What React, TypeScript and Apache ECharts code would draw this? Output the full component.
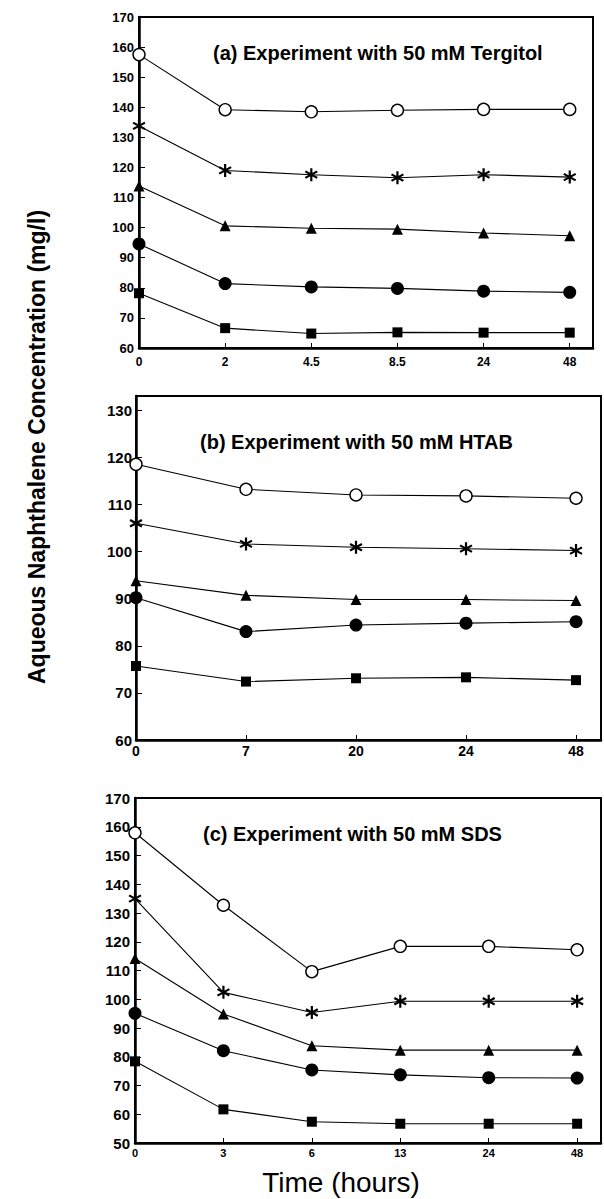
import React, { useEffect, useRef } from 'react';
import * as echarts from 'echarts';

// ---- data ----
const timesA = ['0', '2', '4.5', '8.5', '24', '48'];
const timesB = ['0', '7', '20', '24', '48'];
const timesC = ['0', '3', '6', '13', '24', '48'];

const openCircleA = [157.5, 139.2, 138.5, 139.0, 139.3, 139.3];
const asteriskA = [133.8, 119.0, 117.6, 116.6, 117.6, 116.8];
const triangleA = [113.8, 100.6, 99.8, 99.5, 98.2, 97.3];
const filledCircleA = [94.6, 81.4, 80.3, 79.8, 78.9, 78.5];
const squareA = [78.2, 66.6, 64.8, 65.2, 65.1, 65.1];

const openCircleB = [118.5, 113.2, 112.0, 111.8, 111.3];
const asteriskB = [106.0, 101.6, 100.9, 100.6, 100.2];
const triangleB = [93.8, 90.7, 89.8, 89.8, 89.6];
const filledCircleB = [90.2, 83.0, 84.4, 84.8, 85.1];
const squareB = [75.7, 72.4, 73.1, 73.3, 72.7];

const openCircleC = [157.9, 132.7, 109.6, 118.4, 118.4, 117.2];
const asteriskC = [135.0, 102.4, 95.4, 99.3, 99.3, 99.3];
const triangleC = [114.2, 94.9, 83.8, 82.3, 82.3, 82.3];
const filledCircleC = [95.1, 82.1, 75.4, 73.7, 72.7, 72.6];
const squareC = [78.4, 61.7, 57.4, 56.7, 56.7, 56.7];

const titleA = '(a) Experiment with 50 mM Tergitol';
const titleB = '(b) Experiment with 50 mM HTAB';
const titleC = '(c) Experiment with 50 mM SDS';
const yTitle = 'Aqueous Naphthalene Concentration (mg/l)';
const xTitle = 'Time (hours)';

// ---- styling ----
const FONT = '"Liberation Sans", Arial, Helvetica, sans-serif';
const ASTERISK =
  'path://M8.4 0L11.6 0L11.6 20L8.4 20Z M2.14 3.614L19.46 13.614L17.86 16.386L0.54 6.386Z M0.54 13.614L17.86 3.614L19.46 6.386L2.14 16.386Z';

const markerStyles = [
  { name: 'open circle', symbol: 'circle', size: 12, fill: '#fff', border: 1.4 },
  { name: 'asterisk', symbol: ASTERISK, size: 13, fill: '#000', border: 0 },
  { name: 'triangle', symbol: 'triangle', size: 11, fill: '#000', border: 0 },
  { name: 'filled circle', symbol: 'circle', size: 13, fill: '#000', border: 0 },
  { name: 'square', symbol: 'rect', size: 10, fill: '#000', border: 0 },
];

const panels = [
  {
    times: timesA,
    series: [openCircleA, asteriskA, triangleA, filledCircleA, squareA],
    grid: { left: 139, top: 17, width: 454, height: 331 },
    yMin: 60, yMax: 170, xMax: 5.27,
    yFont: 13, xFont: 12, xMargin: 8, yMargin: 5,
    title: titleA, titleLeft: 213, titleTop: 43,
  },
  {
    times: timesB,
    series: [openCircleB, asteriskB, triangleB, filledCircleB, squareB],
    grid: { left: 136, top: 396, width: 466, height: 344 },
    yMin: 60, yMax: 133, xMax: 4.227,
    yFont: 15, xFont: 14, xMargin: 4, yMargin: 4,
    title: titleB, titleLeft: 200, titleTop: 432,
  },
  {
    times: timesC,
    series: [openCircleC, asteriskC, triangleC, filledCircleC, squareC],
    grid: { left: 135, top: 798, width: 471, height: 345 },
    yMin: 50, yMax: 170, xMax: 5.27,
    yFont: 15, xFont: 11, xMargin: 4, yMargin: 5,
    title: titleC, titleLeft: 203, titleTop: 824,
  },
];

function buildOption() {
  const grid: any[] = [];
  const xAxis: any[] = [];
  const yAxis: any[] = [];
  const series: any[] = [];
  const title: any[] = [];

  panels.forEach((p, pi) => {
    grid.push({
      ...p.grid,
      show: true,
      borderColor: '#000',
      borderWidth: 2,
      backgroundColor: 'transparent',
      containLabel: false,
    });
    xAxis.push({
      type: 'value',
      gridIndex: pi,
      min: 0,
      max: p.xMax,
      interval: 1,
      axisLine: { show: true, lineStyle: { color: '#000', width: 2.5 } },
      axisTick: { show: true, inside: true, length: 5, lineStyle: { color: '#000', width: 1 } },
      splitLine: { show: false },
      axisLabel: {
        color: '#000',
        fontFamily: FONT,
        fontWeight: 'bold',
        fontSize: p.xFont,
        margin: p.xMargin,
        formatter: (v: number) =>
          Number.isInteger(v) && v >= 0 && v < p.times.length ? p.times[v] : '',
      },
    });
    yAxis.push({
      type: 'value',
      gridIndex: pi,
      min: p.yMin,
      max: p.yMax,
      interval: 10,
      axisLine: { show: true, lineStyle: { color: '#000', width: 2.5 } },
      axisTick: { show: true, inside: true, length: 6, lineStyle: { color: '#000', width: 1 } },
      splitLine: { show: false },
      axisLabel: {
        color: '#000',
        fontFamily: FONT,
        fontWeight: 'bold',
        fontSize: p.yFont,
        margin: p.yMargin,
        formatter: (v: number) => (v % 10 === 0 ? String(v) : ''),
      },
    });
    title.push({
      text: p.title,
      left: p.titleLeft,
      top: p.titleTop,
      padding: 0,
      textStyle: { color: '#000', fontFamily: FONT, fontWeight: 'bold', fontSize: 20 },
    });
    p.series.forEach((vals, si) => {
      const m = markerStyles[si];
      series.push({
        type: 'line',
        name: m.name + ' ' + (pi + 1),
        xAxisIndex: pi,
        yAxisIndex: pi,
        data: vals.map((v, i) => [i, v]),
        symbol: m.symbol,
        symbolSize: m.size,
        showAllSymbol: true,
        lineStyle: { color: '#000', width: 1.1 },
        itemStyle: {
          color: m.fill,
          borderColor: '#000',
          borderWidth: m.border,
        },
        z: 3,
      });
    });
  });

  return {
    animation: false,
    backgroundColor: '#fff',
    title,
    grid,
    xAxis,
    yAxis,
    series,
    graphic: [
      {
        type: 'text',
        x: 37,
        y: 447,
        rotation: Math.PI / 2,
        style: {
          text: yTitle,
          fill: '#000',
          font: `bold 23px ${FONT}`,
          textAlign: 'center',
          textVerticalAlign: 'middle',
        },
      },
      {
        type: 'text',
        x: 341,
        y: 1182,
        style: {
          text: xTitle,
          fill: '#000',
          font: `28px ${FONT}`,
          textAlign: 'center',
          textVerticalAlign: 'middle',
        },
      },
    ],
  };
}

export default function App() {
  const ref = useRef<HTMLDivElement>(null);
  useEffect(() => {
    document.body.style.margin = '0';
    if (!ref.current) return;
    const chart = echarts.init(ref.current, undefined, { renderer: 'svg' });
    chart.setOption(buildOption() as any);
    return () => chart.dispose();
  }, []);
  return <div ref={ref} style={{ width: 604, height: 1199 }} />;
}
